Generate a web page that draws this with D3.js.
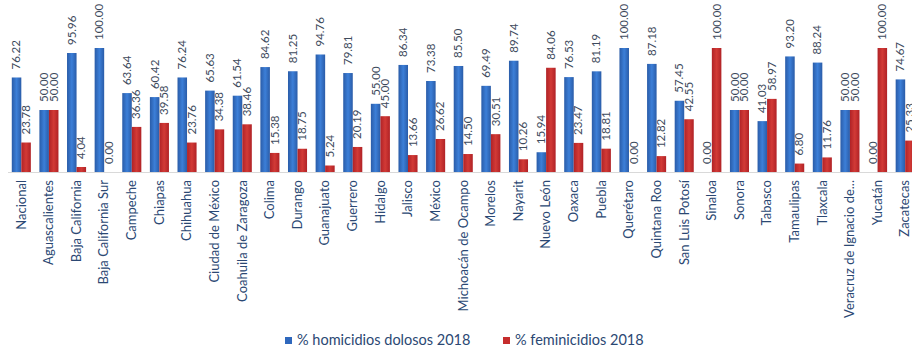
<!DOCTYPE html>
<html><head><meta charset="utf-8">
<script src="https://cdn.jsdelivr.net/npm/d3@7"></script>
<style>body{margin:0;background:#fff;}svg{display:block;}</style>
</head><body><svg id="c" width="912" height="354"></svg>
<script>
const categories = ["Nacional","Aguascalientes","Baja California","Baja California Sur","Campeche","Chiapas","Chihuahua","Ciudad de México","Coahuila de Zaragoza","Colima","Durango","Guanajuato","Guerrero","Hidalgo","Jalisco","México","Michoacán de Ocampo","Morelos","Nayarit","Nuevo León","Oaxaca","Puebla","Querétaro","Quintana Roo","San Luis Potosí","Sinaloa","Sonora","Tabasco","Tamaulipas","Tlaxcala","Veracruz de Ignacio de...","Yucatán","Zacatecas"];
const homicidios = [76.22,50.00,95.96,100.00,63.64,60.42,76.24,65.63,61.54,84.62,81.25,94.76,79.81,55.00,86.34,73.38,85.50,69.49,89.74,15.94,76.53,81.19,100.00,87.18,57.45,0.00,50.00,41.03,93.20,88.24,50.00,0.00,74.67];
const feminicidios = [23.78,50.00,4.04,0.00,36.36,39.58,23.76,34.38,38.46,15.38,18.75,5.24,20.19,45.00,13.66,26.62,14.50,30.51,10.26,84.06,23.47,18.81,0.00,12.82,42.55,100.00,50.00,58.97,6.80,11.76,50.00,100.00,25.33];
const seriesNames = ["% homicidios dolosos 2018","% feminicidios 2018"];

const svg = d3.select("#c");
const font = "Lato, 'Open Sans', sans-serif";
const defs = svg.append("defs");
function grad(id, edge, mid){
  const g = defs.append("linearGradient").attr("id", id).attr("x1","0").attr("x2","1").attr("y1","0").attr("y2","0");
  g.append("stop").attr("offset","0").attr("stop-color", edge);
  g.append("stop").attr("offset","0.5").attr("stop-color", mid);
  g.append("stop").attr("offset","1").attr("stop-color", edge);
}
grad("gb", "#2a5ca8", "#3c7fd8");
grad("gr", "#b02226", "#d23a36");
const fills = ["url(#gb)","url(#gr)"];
const legendColors = ["#2f68bd","#c62d2d"];

const x = d3.scaleBand().domain(categories).range([7.5, 919]).paddingInner(0.31).paddingOuter(0.155);
const x1 = d3.scaleBand().domain([0,1]).range([0, x.bandwidth()]);
const y = d3.scaleLinear().domain([0,100]).range([172, 48]);

const data = categories.map((c,i)=>({c, v:[homicidios[i], feminicidios[i]]}));

svg.append("line").attr("x1", 8).attr("x2", 912).attr("y1", y(0)+0.5).attr("y2", y(0)+0.5)
  .attr("stroke","#d9d9d9").attr("stroke-width",1);

const g = svg.append("g");
const groups = g.selectAll("g.cat").data(data).join("g").attr("class","cat")
  .attr("transform", d=>`translate(${x(d.c)},0)`);
groups.selectAll("rect").data(d=>d.v.map((v,k)=>({v,k}))).join("rect")
  .attr("x", d=>x1(d.k)).attr("width", x1.bandwidth())
  .attr("y", d=>y(d.v)).attr("height", d=>y(0)-y(d.v))
  .attr("fill", d=>fills[d.k]);
groups.selectAll("text").data(d=>d.v.map((v,k)=>({v,k}))).join("text")
  .attr("transform", d=>`translate(${x1(d.k)+x1.bandwidth()/2+1},${y(d.v)-8}) rotate(-90)`)
  .attr("text-anchor","start").attr("dominant-baseline","middle")
  .attr("font-family", font).attr("font-size", 11.5).attr("fill","#3d4a5c")
  .text(d=>d.v.toFixed(2));

const xAxis = d3.axisBottom(x).tickSize(0).tickPadding(0);
const ax = svg.append("g").attr("transform", `translate(0,${y(0)})`).call(xAxis);
ax.select(".domain").remove();
ax.selectAll("text")
  .attr("font-family", font).attr("font-size", 13).attr("fill","#2b4873")
  .attr("text-anchor","end").attr("dy", null).attr("y", null)
  .attr("dominant-baseline","middle")
  .attr("transform","translate(1,8) rotate(-90)");

const lg = svg.append("g");
const lx = [285, 503];
seriesNames.forEach((n,k)=>{
  lg.append("rect").attr("x", lx[k]).attr("y", 337).attr("width", 7).attr("height", 7).attr("fill", legendColors[k]);
  lg.append("text").attr("x", lx[k]+12).attr("y", 341).attr("dominant-baseline","middle")
    .attr("font-family", font).attr("font-size", 14.5).attr("fill","#2b4873").text(n);
});
</script></body></html>
